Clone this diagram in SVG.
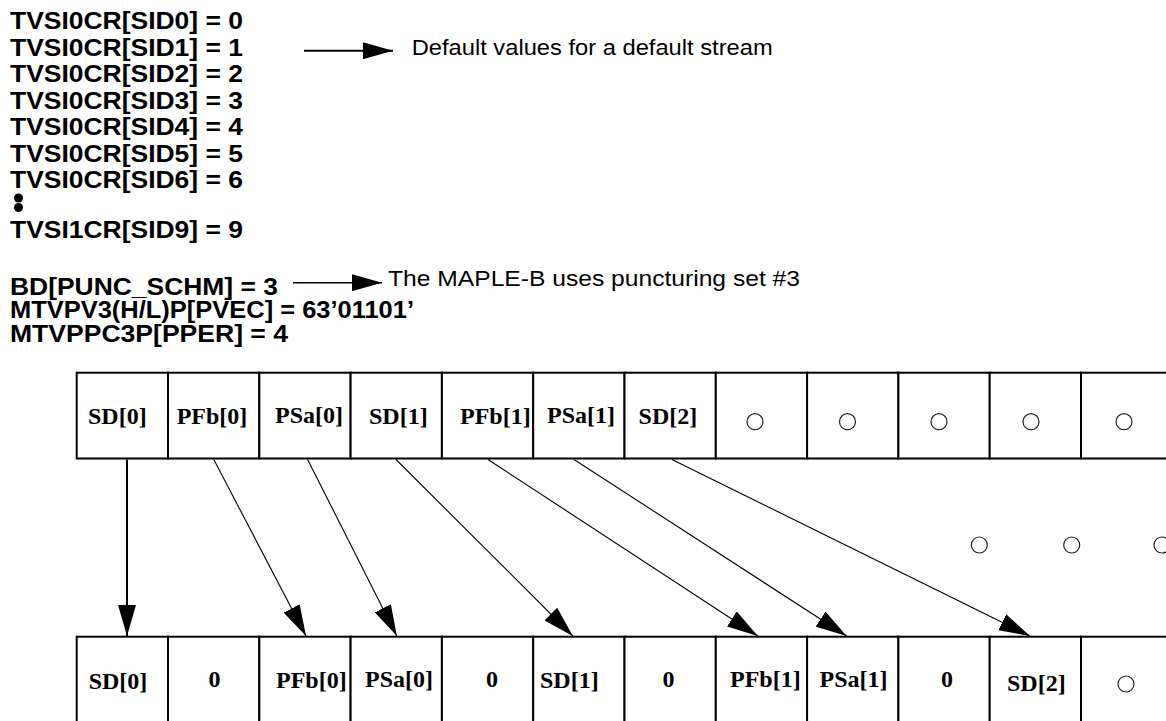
<svg xmlns="http://www.w3.org/2000/svg" width="1166" height="721" viewBox="0 0 1166 721">
<defs>
<marker id="ah" markerUnits="userSpaceOnUse" markerWidth="31" markerHeight="18" refX="31" refY="9" orient="auto" viewBox="0 0 31 18"><path d="M0,0 L31,9 L0,18 z" fill="#000"/></marker>
<marker id="ahs" markerUnits="userSpaceOnUse" markerWidth="30" markerHeight="17" refX="30" refY="8.5" orient="auto" viewBox="0 0 30 17"><path d="M0,0 L30,8.5 L0,17 z" fill="#000"/></marker>
</defs>
<style>
.h{font-family:"Liberation Sans",Arial,sans-serif;font-weight:bold;font-size:23px;fill:#000}
.n{font-family:"Liberation Sans",Arial,sans-serif;font-size:22px;fill:#000}
.c{font-family:"Liberation Serif","Times New Roman",serif;font-weight:bold;font-size:24px;fill:#000}
.cell{fill:#fff;stroke:#000;stroke-width:2}
.o{fill:none;stroke:#222;stroke-width:1.2}
.cn{stroke:#000;stroke-width:1.1;fill:none}
</style>
<rect width="1166" height="721" fill="#fff"/>
<g id="settings">
<text class="h" x="10" y="28.5" textLength="233" lengthAdjust="spacingAndGlyphs">TVSI0CR[SID0] = 0</text>
<text class="h" x="10" y="55.5" textLength="233" lengthAdjust="spacingAndGlyphs">TVSI0CR[SID1] = 1</text>
<text class="h" x="10" y="82" textLength="233" lengthAdjust="spacingAndGlyphs">TVSI0CR[SID2] = 2</text>
<text class="h" x="10" y="108.5" textLength="233" lengthAdjust="spacingAndGlyphs">TVSI0CR[SID3] = 3</text>
<text class="h" x="10" y="135" textLength="233" lengthAdjust="spacingAndGlyphs">TVSI0CR[SID4] = 4</text>
<text class="h" x="10" y="161.5" textLength="233" lengthAdjust="spacingAndGlyphs">TVSI0CR[SID5] = 5</text>
<text class="h" x="10" y="188" textLength="233" lengthAdjust="spacingAndGlyphs">TVSI0CR[SID6] = 6</text>
<circle cx="18.5" cy="198" r="4.5" fill="#000"/>
<circle cx="18.5" cy="207.5" r="4.5" fill="#000"/>
<text class="h" x="10" y="238" textLength="233" lengthAdjust="spacingAndGlyphs">TVSI1CR[SID9] = 9</text>
<text class="h" x="10" y="294.5" textLength="268" lengthAdjust="spacingAndGlyphs">BD[PUNC_SCHM] = 3</text>
<text class="h" x="10" y="318" textLength="404" lengthAdjust="spacingAndGlyphs">MTVPV3(H/L)P[PVEC] = 63’01101’</text>
<text class="h" x="10" y="341.5" textLength="278" lengthAdjust="spacingAndGlyphs">MTVPPC3P[PPER] = 4</text>
</g>
<g id="notes">
<line x1="304" y1="50.7" x2="393" y2="50.7" stroke="#000" stroke-width="2" marker-end="url(#ahs)"/>
<text class="n" x="411.7" y="55" textLength="361" lengthAdjust="spacingAndGlyphs">Default values for a default stream</text>
<line x1="293" y1="282.7" x2="382" y2="282.7" stroke="#000" stroke-width="1.6" marker-end="url(#ahs)"/>
<text class="n" x="388" y="286" textLength="412" lengthAdjust="spacingAndGlyphs">The MAPLE-B uses puncturing set #3</text>
</g>
<g id="input-row">
<g id="in0"><rect class="cell" x="76.7" y="372.7" width="91.3" height="85.8"/><text class="c" x="88" y="424">SD[0]</text></g>
<g id="in1"><rect class="cell" x="168" y="372.7" width="91.3" height="85.8"/><text class="c" x="176.7" y="424">PFb[0]</text></g>
<g id="in2"><rect class="cell" x="259.3" y="372.7" width="91.3" height="85.8"/><text class="c" x="275" y="423">PSa[0]</text></g>
<g id="in3"><rect class="cell" x="350.6" y="372.7" width="91.3" height="85.8"/><text class="c" x="369" y="424">SD[1]</text></g>
<g id="in4"><rect class="cell" x="441.9" y="372.7" width="91.3" height="85.8"/><text class="c" x="460" y="424">PFb[1]</text></g>
<g id="in5"><rect class="cell" x="533.2" y="372.7" width="91.3" height="85.8"/><text class="c" x="547" y="423">PSa[1]</text></g>
<g id="in6"><rect class="cell" x="624.5" y="372.7" width="91.3" height="85.8"/><text class="c" x="638.6" y="424">SD[2]</text></g>
<g id="in7"><rect class="cell" x="715.8" y="372.7" width="91.3" height="85.8"/><circle class="o" cx="755" cy="421.7" r="8"/></g>
<g id="in8"><rect class="cell" x="807.1" y="372.7" width="91.3" height="85.8"/><circle class="o" cx="847.5" cy="421.7" r="8"/></g>
<g id="in9"><rect class="cell" x="898.4" y="372.7" width="91.3" height="85.8"/><circle class="o" cx="939" cy="421.7" r="8"/></g>
<g id="in10"><rect class="cell" x="989.7" y="372.7" width="91.3" height="85.8"/><circle class="o" cx="1031" cy="421.7" r="8"/></g>
<g id="in11"><rect class="cell" x="1081" y="372.7" width="120" height="85.8"/><circle class="o" cx="1124" cy="421.7" r="8"/></g>
</g>
<g id="ellipsis">
<circle class="o" cx="979.3" cy="545" r="8"/>
<circle class="o" cx="1071.7" cy="545" r="8"/>
<circle class="o" cx="1162" cy="545" r="8"/>
</g>
<g id="output-row">
<g id="out0"><rect class="cell" x="76.7" y="636.7" width="91.3" height="110"/><text class="c" x="88.7" y="688.5">SD[0]</text></g>
<g id="out1"><rect class="cell" x="168" y="636.7" width="91.3" height="110"/><text class="c" x="214.5" y="687" text-anchor="middle">0</text></g>
<g id="out2"><rect class="cell" x="259.3" y="636.7" width="91.3" height="110"/><text class="c" x="276" y="688">PFb[0]</text></g>
<g id="out3"><rect class="cell" x="350.6" y="636.7" width="91.3" height="110"/><text class="c" x="365" y="687">PSa[0]</text></g>
<g id="out4"><rect class="cell" x="441.9" y="636.7" width="91.3" height="110"/><text class="c" x="492" y="687" text-anchor="middle">0</text></g>
<g id="out5"><rect class="cell" x="533.2" y="636.7" width="91.3" height="110"/><text class="c" x="540" y="688">SD[1]</text></g>
<g id="out6"><rect class="cell" x="624.5" y="636.7" width="91.3" height="110"/><text class="c" x="668.6" y="687" text-anchor="middle">0</text></g>
<g id="out7"><rect class="cell" x="715.8" y="636.7" width="91.3" height="110"/><text class="c" x="730" y="687">PFb[1]</text></g>
<g id="out8"><rect class="cell" x="807.1" y="636.7" width="91.3" height="110"/><text class="c" x="819.5" y="687">PSa[1]</text></g>
<g id="out9"><rect class="cell" x="898.4" y="636.7" width="91.3" height="110"/><text class="c" x="947" y="687" text-anchor="middle">0</text></g>
<g id="out10"><rect class="cell" x="989.7" y="636.7" width="91.3" height="110"/><text class="c" x="1007" y="690.5">SD[2]</text></g>
<g id="out11"><rect class="cell" x="1081" y="636.7" width="120" height="110"/><circle class="o" cx="1126" cy="684" r="8"/></g>
</g>
<g id="connectors">
<line x1="127" y1="459.5" x2="127" y2="636" stroke="#000" stroke-width="2" marker-end="url(#ah)"/>
<line class="cn" x1="213.8" y1="459.5" x2="306" y2="636" marker-end="url(#ah)"/>
<line class="cn" x1="307.6" y1="459.5" x2="396.8" y2="636" marker-end="url(#ah)"/>
<line class="cn" x1="396" y1="459.5" x2="572.8" y2="636" marker-end="url(#ah)"/>
<line class="cn" x1="488" y1="459.5" x2="757.8" y2="636" marker-end="url(#ah)"/>
<line class="cn" x1="574" y1="459.5" x2="846.6" y2="636" marker-end="url(#ah)"/>
<line class="cn" x1="672" y1="459.5" x2="1030" y2="636" marker-end="url(#ah)"/>
</g>
</svg>
